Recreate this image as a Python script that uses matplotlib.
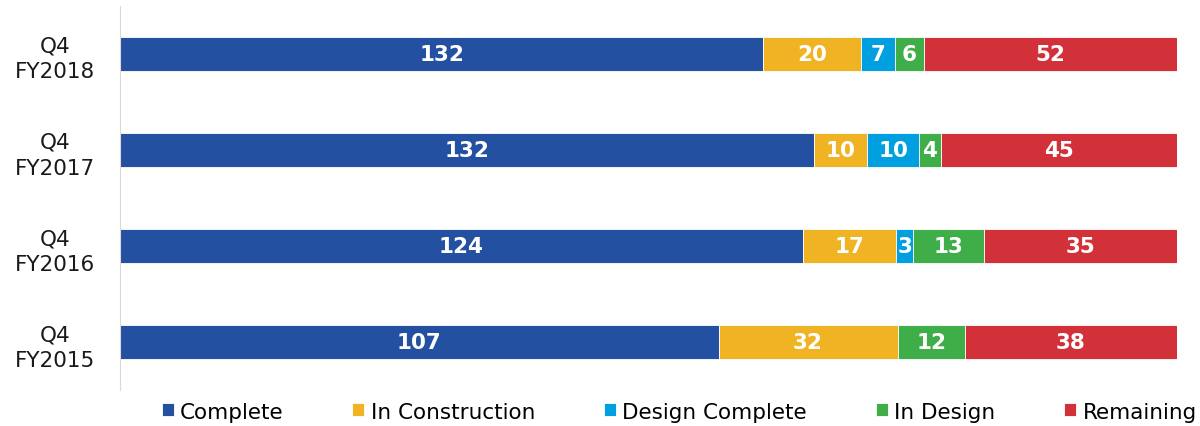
#!/usr/bin/env python3

import matplotlib
matplotlib.use("Agg")
import matplotlib.pyplot as plt
import numpy as np

periods = ["Q4\nFY2015", "Q4\nFY2016", "Q4\nFY2017", "Q4\nFY2018"]
complete = [107, 124, 132, 132]
in_construction = [32, 17, 10, 20]
design_complete = [0, 3, 10, 7]
in_design = [12, 13, 4, 6]
remaining = [38, 35, 45, 52]

SERIES = [
    ("Complete", complete, "#2350A0"),
    ("In Construction", in_construction, "#F0B323"),
    ("Design Complete", design_complete, "#009FDF"),
    ("In Design", in_design, "#3FAE49"),
    ("Remaining", remaining, "#D3313A"),
]

plt.rcParams["font.family"] = ["DejaVu Sans"]

fig = plt.figure(figsize=(12, 4.27), dpi=100)
ax = fig.add_axes([0.1, 0.084, 0.881, 0.9])

totals = np.sum([s[1] for s in SERIES], axis=0)
y = np.arange(len(periods))
left = np.zeros(len(periods))

for name, vals, color in SERIES:
    vals = np.array(vals, dtype=float)
    frac = vals / totals
    ax.barh(y, frac, left=left, height=0.36, color=color,
            edgecolor="white", linewidth=0.6, label=name)
    for i, v in enumerate(vals):
        if v > 0:
            ax.text(left[i] + frac[i] / 2, y[i], "%d" % v, ha="center",
                    va="center", color="white", fontsize=15.5, fontweight="bold")
    left += frac

ax.set_xlim(0, 1)
ax.set_ylim(-0.5, len(periods) - 0.5)
ax.set_yticks(y)
ax.set_yticklabels(periods, fontsize=15.5, linespacing=1.35,
                   ha="center", color="#1a1a1a")
ax.set_xticks([])
ax.tick_params(axis="y", length=0, pad=47)
for side in ["top", "right", "bottom"]:
    ax.spines[side].set_visible(False)
ax.spines["left"].set_color("#D9D9D9")

fig.legend(loc="lower center", bbox_to_anchor=(0.566, -0.035), ncol=5,
           frameon=False, fontsize=15.5, handlelength=0.55, handleheight=0.55,
           handletextpad=0.3, columnspacing=3.2)

plt.savefig("out.png")
